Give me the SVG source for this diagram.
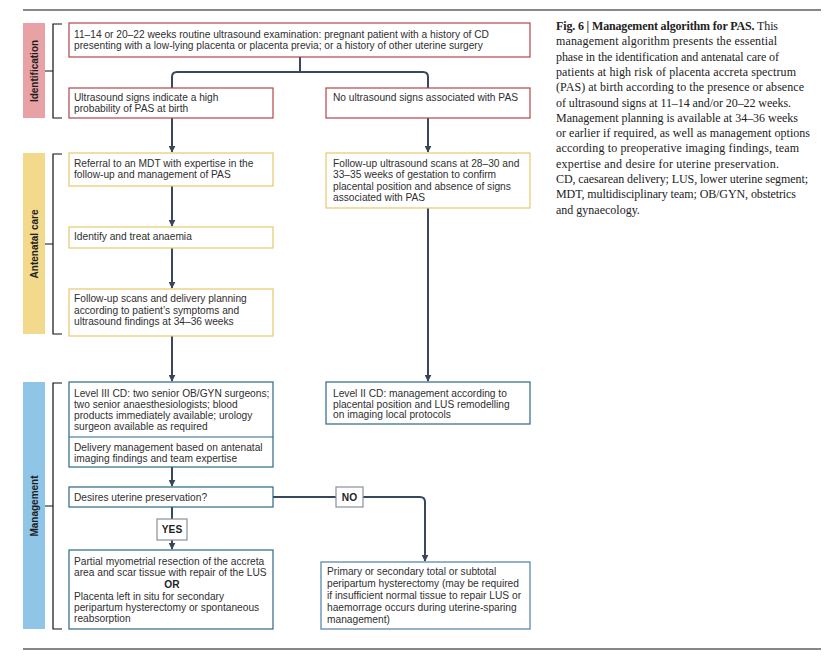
<svg xmlns="http://www.w3.org/2000/svg" width="837" height="663" viewBox="0 0 837 663">
<style>
.t{font-family:"Liberation Sans",Arial,sans-serif;font-size:10.2px;fill:#2f2f2f}
.b{font-weight:bold}
.lab{font-family:"Liberation Sans",Arial,sans-serif;font-size:10px;font-weight:bold;fill:#1f1f1f;text-anchor:middle}
.cap{font-family:"Liberation Serif","Times New Roman",serif;font-size:12px;fill:#222}
.red{fill:#fff;stroke:#b5434b;stroke-width:1.2}
.yel{fill:#fff;stroke:#e6c86c;stroke-width:1.2}
.blu{fill:#fff;stroke:#2b6886;stroke-width:1.2}
.yn{fill:#fff;stroke:#8a9099;stroke-width:1.2}
.c{fill:none;stroke:#38475c;stroke-width:2}
.br{fill:none;stroke:#111;stroke-width:1.2}
.rule{stroke:#111;stroke-width:1.2}
</style>
<defs>
<marker id="a" viewBox="0 0 10 10" refX="9" refY="5" markerWidth="3.5" markerHeight="3.5" orient="auto" markerUnits="strokeWidth">
<path d="M0,0 L10,5 L0,10 z" fill="#38475c"/>
</marker>
</defs>
<rect width="837" height="663" fill="#fff"/>
<line class="rule" x1="23" y1="10" x2="821" y2="10"/>
<line class="rule" x1="23" y1="649" x2="821" y2="649"/>

<g id="phase-identification">
<rect x="23" y="23" width="22" height="95" fill="#e8a1a4"/>
<text class="lab" transform="translate(37.5,71) rotate(-90)">Identification</text>
<path class="br" d="M62,24 H53 V118 H62 M45,71 H53"/>
</g>
<g id="phase-antenatal">
<rect x="23" y="153" width="22" height="181" fill="#f3d98c"/>
<text class="lab" transform="translate(37.5,244) rotate(-90)">Antenatal care</text>
<path class="br" d="M62,154 H53 V334 H62 M45,244 H53"/>
</g>
<g id="phase-management">
<rect x="23" y="382" width="22" height="247" fill="#8fc6e8"/>
<text class="lab" transform="translate(37.5,506) rotate(-90)">Management</text>
<path class="br" d="M62,383 H53 V629 H62 M45,506 H53"/>
</g>

<g id="connectors">
<path class="c" d="M300,57 V72"/>
<path class="c" d="M172,88 V77 Q172,72 177,72 H423 Q428,72 428,77 V88"/>
<path class="c" d="M172,118 V152" marker-end="url(#a)"/>
<path class="c" d="M428,118 V152" marker-end="url(#a)"/>
<path class="c" d="M172,186 V226" marker-end="url(#a)"/>
<path class="c" d="M172,248 V288" marker-end="url(#a)"/>
<path class="c" d="M172,336 V381" marker-end="url(#a)"/>
<path class="c" d="M428,208 V381" marker-end="url(#a)"/>
<path class="c" d="M172,467 V486" marker-end="url(#a)"/>
<path class="c" d="M172,507 V519"/>
<path class="c" d="M172,540 V549" marker-end="url(#a)"/>
<path class="c" d="M273,497 H336"/>
<path class="c" d="M363,497 H420 Q425,497 425,502 V561" marker-end="url(#a)"/>
</g>

<g id="n1">
<rect class="red" x="69" y="23" width="461" height="34"/>
<text class="t" x="74" y="37.5">11–14 or 20–22 weeks routine ultrasound examination: pregnant patient with a history of CD</text>
<text class="t" x="74" y="48.5">presenting with a low-lying placenta or placenta previa; or a history of other uterine surgery</text>
</g>
<g id="n2">
<rect class="red" x="69" y="88" width="204" height="30"/>
<text class="t" x="74" y="101">Ultrasound signs indicate a high</text>
<text class="t" x="74" y="112">probability of PAS at birth</text>
</g>
<g id="n3">
<rect class="red" x="326" y="88" width="204" height="30"/>
<text class="t" x="333" y="101">No ultrasound signs associated with PAS</text>
</g>
<g id="n4">
<rect class="yel" x="69" y="153" width="204" height="33"/>
<text class="t" x="74" y="167">Referral to an MDT with expertise in the</text>
<text class="t" x="74" y="178">follow-up and management of PAS</text>
</g>
<g id="n5">
<rect class="yel" x="326" y="153" width="204" height="55"/>
<text class="t" x="333" y="167">Follow-up ultrasound scans at 28–30 and</text>
<text class="t" x="333" y="178.3">33–35 weeks of gestation to confirm</text>
<text class="t" x="333" y="189.6">placental position and absence of signs</text>
<text class="t" x="333" y="201">associated with PAS</text>
</g>
<g id="n6">
<rect class="yel" x="69" y="227" width="204" height="21"/>
<text class="t" x="74" y="240">Identify and treat anaemia</text>
</g>
<g id="n7">
<rect class="yel" x="69" y="289" width="204" height="47"/>
<text class="t" x="74" y="302">Follow-up scans and delivery planning</text>
<text class="t" x="74" y="313.5">according to patient’s symptoms and</text>
<text class="t" x="74" y="325">ultrasound findings at 34–36 weeks</text>
</g>
<g id="n8">
<rect class="blu" x="69" y="382" width="204" height="85"/>
<line x1="69" y1="437" x2="273" y2="437" stroke="#2b6886" stroke-width="1.2"/>
<text class="t" x="74" y="397">Level III CD: two senior OB/GYN surgeons;</text>
<text class="t" x="74" y="408">two senior anaesthesiologists; blood</text>
<text class="t" x="74" y="419">products immediately available; urology</text>
<text class="t" x="74" y="430">surgeon available as required</text>
<text class="t" x="74" y="451">Delivery management based on antenatal</text>
<text class="t" x="74" y="462">imaging findings and team expertise</text>
</g>
<g id="n9">
<rect class="blu" x="326" y="382" width="204" height="42"/>
<text class="t" x="333" y="397">Level II CD: management according to</text>
<text class="t" x="333" y="407.5">placental position and LUS remodelling</text>
<text class="t" x="333" y="418">on imaging local protocols</text>
</g>
<g id="n10">
<rect class="blu" x="69" y="487" width="204" height="20"/>
<text class="t" x="74" y="501">Desires uterine preservation?</text>
</g>
<g id="no">
<rect class="yn" x="336" y="487" width="27" height="20"/>
<text class="t b" x="349.5" y="501" text-anchor="middle" style="fill:#1f1f1f">NO</text>
</g>
<g id="yes">
<rect class="yn" x="157" y="519" width="30" height="21"/>
<text class="t b" x="172" y="533" text-anchor="middle" style="fill:#1f1f1f">YES</text>
</g>
<g id="n11">
<rect class="blu" x="69" y="550" width="204" height="79"/>
<text class="t" x="74" y="564.5">Partial myometrial resection of the accreta</text>
<text class="t" x="74" y="575.5">area and scar tissue with repair of the LUS</text>
<text class="t b" x="172" y="587.5" text-anchor="middle" style="fill:#1f1f1f">OR</text>
<text class="t" x="74" y="599.5">Placenta left in situ for secondary</text>
<text class="t" x="74" y="611">peripartum hysterectomy or spontaneous</text>
<text class="t" x="74" y="622">reabsorption</text>
</g>
<g id="n12">
<rect class="blu" x="321" y="562" width="209" height="67" style="stroke:#4d7fa3"/>
<text class="t" x="327" y="575">Primary or secondary total or subtotal</text>
<text class="t" x="327" y="587">peripartum hysterectomy (may be required</text>
<text class="t" x="327" y="599">if insufficient normal tissue to repair LUS or</text>
<text class="t" x="327" y="611">haemorrage occurs during uterine-sparing</text>
<text class="t" x="327" y="623">management)</text>
</g>

<g id="caption">
<text class="cap" x="556" y="30" textLength="222" lengthAdjust="spacing"><tspan font-weight="bold">Fig. 6 | Management algorithm for PAS.</tspan> This</text>
<text class="cap" x="556" y="45.3" textLength="221" lengthAdjust="spacing">management algorithm presents the essential</text>
<text class="cap" x="556" y="60.6" textLength="223" lengthAdjust="spacing">phase in the identification and antenatal care of</text>
<text class="cap" x="556" y="75.9" textLength="240" lengthAdjust="spacing">patients at high risk of placenta accreta spectrum</text>
<text class="cap" x="556" y="91.2" textLength="248" lengthAdjust="spacing">(PAS) at birth according to the presence or absence</text>
<text class="cap" x="556" y="106.5" textLength="235" lengthAdjust="spacing">of ultrasound signs at 11–14 and/or 20–22 weeks.</text>
<text class="cap" x="556" y="121.8" textLength="242" lengthAdjust="spacing">Management planning is available at 34–36 weeks</text>
<text class="cap" x="556" y="137.1" textLength="254" lengthAdjust="spacing">or earlier if required, as well as management options</text>
<text class="cap" x="556" y="152.4" textLength="243" lengthAdjust="spacing">according to preoperative imaging findings, team</text>
<text class="cap" x="556" y="167.7" textLength="223" lengthAdjust="spacing">expertise and desire for uterine preservation.</text>
<text class="cap" x="556" y="183" textLength="252" lengthAdjust="spacing">CD, caesarean delivery; LUS, lower uterine segment;</text>
<text class="cap" x="556" y="198.3" textLength="240" lengthAdjust="spacing">MDT, multidisciplinary team; OB/GYN, obstetrics</text>
<text class="cap" x="556" y="213.6">and gynaecology.</text>
</g>
</svg>
